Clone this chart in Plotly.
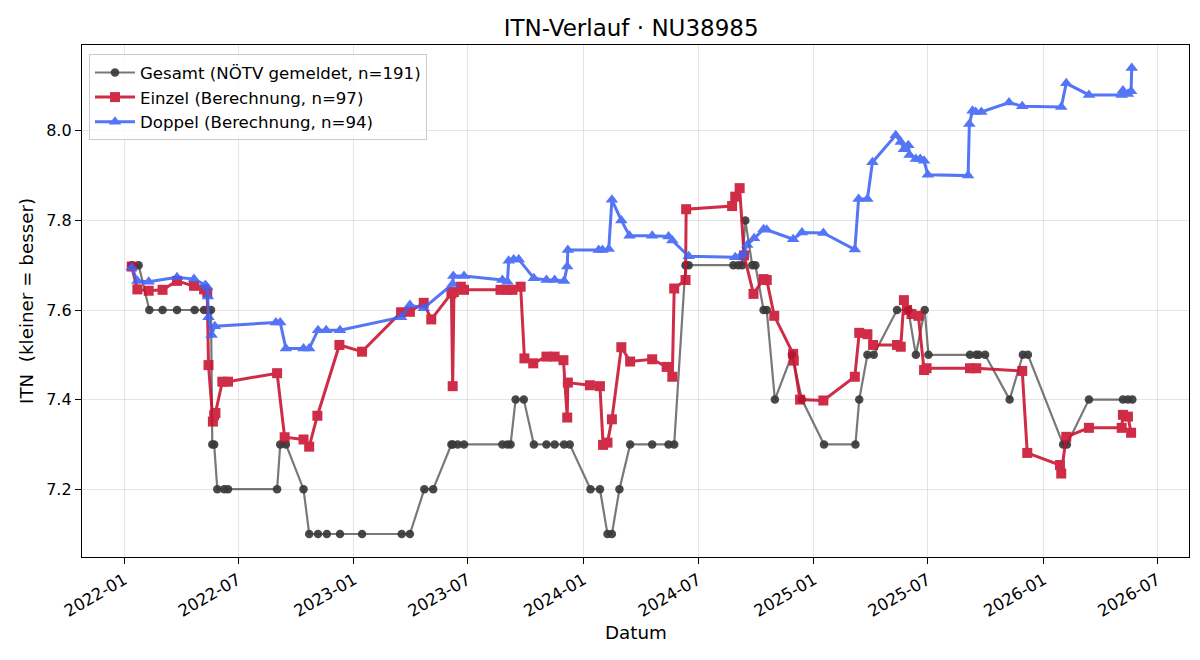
import plotly.graph_objects as go

# ---------------- data ----------------
gesamt_dates = [
    "2022-01-13", "2022-01-24", "2022-02-10", "2022-03-03", "2022-03-26", "2022-04-23",
    "2022-05-08", "2022-05-19", "2022-05-21", "2022-05-24", "2022-05-29", "2022-06-09",
    "2022-06-15", "2022-09-01", "2022-09-06", "2022-09-15", "2022-10-13", "2022-10-22",
    "2022-11-05", "2022-11-19", "2022-12-10", "2023-01-14", "2023-03-18", "2023-03-31",
    "2023-04-23", "2023-05-07", "2023-06-05", "2023-06-07", "2023-06-15", "2023-06-25",
    "2023-08-25", "2023-09-02", "2023-09-07", "2023-09-15", "2023-09-28", "2023-10-14",
    "2023-11-03", "2023-11-16", "2023-12-01", "2023-12-10", "2024-01-12", "2024-01-27",
    "2024-02-08", "2024-02-15", "2024-02-27", "2024-03-15", "2024-04-19", "2024-05-15",
    "2024-05-24", "2024-06-11", "2024-06-16", "2024-08-26", "2024-09-03", "2024-09-09",
    "2024-09-14", "2024-09-25", "2024-09-30", "2024-10-13", "2024-10-18", "2024-10-31",
    "2024-11-27", "2024-12-13", "2025-01-17", "2025-03-08", "2025-03-14", "2025-03-27",
    "2025-04-06", "2025-05-13", "2025-05-31", "2025-06-12", "2025-06-26", "2025-07-02",
    "2025-09-06", "2025-09-16", "2025-09-20", "2025-09-30", "2025-11-08", "2025-11-29",
    "2025-12-07", "2026-02-01", "2026-02-07", "2026-03-14", "2026-05-07", "2026-05-15",
    "2026-05-22",
]
gesamt_values = [
    7.7, 7.7, 7.6, 7.6, 7.6, 7.6,
    7.6, 7.6, 7.3, 7.3, 7.2, 7.2,
    7.2, 7.2, 7.3, 7.3, 7.2, 7.1,
    7.1, 7.1, 7.1, 7.1, 7.1, 7.1,
    7.2, 7.2, 7.3, 7.3, 7.3, 7.3,
    7.3, 7.3, 7.3, 7.4, 7.4, 7.3,
    7.3, 7.3, 7.3, 7.3, 7.2, 7.2,
    7.1, 7.1, 7.2, 7.3, 7.3, 7.3,
    7.3, 7.7, 7.7, 7.7, 7.7, 7.7,
    7.8, 7.7, 7.7, 7.6, 7.6, 7.4,
    7.5, 7.4, 7.3, 7.3, 7.4, 7.5,
    7.5, 7.6, 7.6, 7.5, 7.6, 7.5,
    7.5, 7.5, 7.5, 7.5, 7.4, 7.5,
    7.5, 7.3, 7.3, 7.4, 7.4, 7.4,
    7.4,
]

einzel_dates = [
    "2022-01-13", "2022-01-22", "2022-02-09", "2022-03-03", "2022-03-26", "2022-04-22",
    "2022-05-08", "2022-05-13", "2022-05-15", "2022-05-22", "2022-05-24", "2022-05-26",
    "2022-06-06", "2022-06-15", "2022-09-01", "2022-09-13", "2022-10-13", "2022-10-22",
    "2022-11-04", "2022-12-09", "2023-01-14", "2023-03-17", "2023-03-31", "2023-04-22",
    "2023-05-04", "2023-06-05", "2023-06-07", "2023-06-09", "2023-06-20", "2023-06-25",
    "2023-08-22", "2023-09-02", "2023-09-10", "2023-09-23", "2023-09-29", "2023-10-13",
    "2023-11-03", "2023-11-16", "2023-11-30", "2023-12-06", "2023-12-07", "2024-01-11",
    "2024-01-27", "2024-02-01", "2024-02-08", "2024-02-15", "2024-03-01", "2024-03-15",
    "2024-04-19", "2024-05-12", "2024-05-21", "2024-05-24", "2024-06-11", "2024-06-12",
    "2024-08-24", "2024-08-29", "2024-09-05", "2024-09-12", "2024-09-27", "2024-10-13",
    "2024-10-18", "2024-10-30", "2024-11-29", "2024-11-30", "2024-12-10", "2025-01-16",
    "2025-03-07", "2025-03-14", "2025-03-27", "2025-04-05", "2025-05-13", "2025-05-19",
    "2025-05-24", "2025-05-29", "2025-06-05", "2025-06-16", "2025-06-25", "2025-06-29",
    "2025-09-06", "2025-09-16", "2025-11-28", "2025-12-06", "2026-01-27", "2026-01-29",
    "2026-02-06", "2026-03-14", "2026-05-05", "2026-05-07", "2026-05-15", "2026-05-20",
]
einzel_values = [
    7.697, 7.646, 7.643, 7.645, 7.665, 7.654,
    7.646, 7.639, 7.477, 7.351, 7.365, 7.370,
    7.440, 7.440, 7.459, 7.316, 7.311, 7.295,
    7.364, 7.522, 7.507, 7.595, 7.596, 7.616,
    7.579, 7.637, 7.430, 7.640, 7.652, 7.645,
    7.645, 7.645, 7.645, 7.652, 7.492, 7.481,
    7.496, 7.496, 7.488, 7.360, 7.438, 7.432,
    7.430, 7.299, 7.304, 7.356, 7.517, 7.485,
    7.490, 7.473, 7.451, 7.648, 7.667, 7.825,
    7.832, 7.853, 7.872, 7.722, 7.636, 7.669,
    7.667, 7.587, 7.502, 7.487, 7.400, 7.398,
    7.451, 7.549, 7.546, 7.522, 7.522, 7.518,
    7.622, 7.600, 7.591, 7.587, 7.466, 7.470,
    7.470, 7.470, 7.464, 7.281, 7.254, 7.235,
    7.317, 7.337, 7.337, 7.366, 7.362, 7.326,
]

doppel_dates = [
    "2022-01-13", "2022-01-22", "2022-02-09", "2022-03-26", "2022-04-22", "2022-05-10",
    "2022-05-13", "2022-05-14", "2022-05-15", "2022-05-20", "2022-05-25", "2022-08-30",
    "2022-09-06", "2022-09-15", "2022-10-13", "2022-10-22", "2022-11-05", "2022-11-18",
    "2022-12-10", "2023-03-17", "2023-03-31", "2023-04-22", "2023-06-07", "2023-06-08",
    "2023-06-25", "2023-08-25", "2023-09-02", "2023-09-04", "2023-09-12", "2023-09-20",
    "2023-10-14", "2023-11-03", "2023-11-16", "2023-12-01", "2023-12-06", "2023-12-07",
    "2024-01-25", "2024-01-31", "2024-02-10", "2024-02-15", "2024-03-01", "2024-03-14",
    "2024-04-19", "2024-05-15", "2024-05-21", "2024-06-16", "2024-08-29", "2024-09-06",
    "2024-09-11", "2024-09-17", "2024-09-28", "2024-10-13", "2024-10-18", "2024-11-29",
    "2024-12-13", "2025-01-16", "2025-03-07", "2025-03-13", "2025-03-27", "2025-04-04",
    "2025-05-11", "2025-05-19", "2025-05-24", "2025-05-31", "2025-06-02", "2025-06-12",
    "2025-06-19", "2025-06-25", "2025-07-01", "2025-09-03", "2025-09-05", "2025-09-10",
    "2025-09-15", "2025-09-24", "2025-11-07", "2025-11-28", "2026-01-29", "2026-02-06",
    "2026-03-14", "2026-05-05", "2026-05-07", "2026-05-15", "2026-05-20", "2026-05-21",
]
doppel_values = [
    7.695, 7.665, 7.663, 7.673, 7.669, 7.656,
    7.651, 7.630, 7.584, 7.544, 7.564, 7.572,
    7.572, 7.514, 7.514, 7.514, 7.555, 7.555,
    7.555, 7.584, 7.611, 7.604, 7.658, 7.676,
    7.676, 7.667, 7.663, 7.710, 7.713, 7.713,
    7.671, 7.667, 7.667, 7.665, 7.697, 7.734,
    7.734, 7.734, 7.736, 7.846, 7.800, 7.766,
    7.766, 7.764, 7.755, 7.720, 7.718, 7.720,
    7.725, 7.745, 7.760, 7.780, 7.779, 7.758,
    7.773, 7.772, 7.735, 7.848, 7.848, 7.930,
    7.990, 7.975, 7.959, 7.968, 7.946, 7.937,
    7.937, 7.933, 7.902, 7.900, 8.015, 8.045,
    8.042, 8.042, 8.063, 8.055, 8.053, 8.106,
    8.080, 8.080, 8.090, 8.082, 8.088, 8.140,
]

series_names = [
    "Gesamt (NÖTV gemeldet, n=191)",
    "Einzel (Berechnung, n=97)",
    "Doppel (Berechnung, n=94)",
]
x_tick_vals = ["2022-01-01", "2022-07-01", "2023-01-01", "2023-07-01", "2024-01-01",
               "2024-07-01", "2025-01-01", "2025-07-01", "2026-01-01", "2026-07-01"]
x_tick_text = ["2022-01", "2022-07", "2023-01", "2023-07", "2024-01",
               "2024-07", "2025-01", "2025-07", "2026-01", "2026-07"]
y_tick_vals = [7.2, 7.4, 7.6, 7.8, 8.0]

FONT = "DejaVu Sans"

fig = go.Figure()
fig.add_trace(go.Scatter(
    x=gesamt_dates, y=gesamt_values, mode="lines+markers", name=series_names[0],
    line=dict(color="rgba(68,68,68,0.72)", width=2.2),
    marker=dict(symbol="circle", size=8.5, color="rgba(58,58,58,0.92)"),
))
fig.add_trace(go.Scatter(
    x=einzel_dates, y=einzel_values, mode="lines+markers", name=series_names[1],
    line=dict(color="#C8102E", width=3),
    marker=dict(symbol="square", size=10, color="#C8102E"),
    opacity=0.88,
))
fig.add_trace(go.Scatter(
    x=doppel_dates, y=doppel_values, mode="lines+markers", name=series_names[2],
    line=dict(color="#3D63F5", width=3),
    marker=dict(symbol="triangle-up", size=11, color="#3D63F5"),
    opacity=0.88,
))

axis_common = dict(
    showline=True, linecolor="black", linewidth=1.3, mirror=True,
    ticks="outside", ticklen=6, tickwidth=1.3, tickcolor="black",
    showgrid=True, gridcolor="rgba(0,0,0,0.10)", gridwidth=1,
    zeroline=False,
)

fig.update_layout(
    width=1200, height=660,
    margin=dict(l=82, r=11, t=45, b=103),
    paper_bgcolor="white", plot_bgcolor="white",
    font=dict(family=FONT, color="black"),
    title=dict(text="ITN-Verlauf · NU38985", x=0.526, xanchor="center",
               y=1 - 28 / 660, yref="container", yanchor="middle",
               font=dict(family=FONT, size=23, color="black")),
    xaxis=dict(axis_common, type="date", range=["2021-10-26", "2026-08-20"],
               tickvals=x_tick_vals, ticktext=x_tick_text, tickangle=-30,
               tickfont=dict(family=FONT, size=16.5, color="black")),
    yaxis=dict(axis_common, range=[7.0487, 8.1915], tickvals=y_tick_vals,
               tickformat=".1f",
               tickfont=dict(family=FONT, size=16, color="black")),
    legend=dict(x=0.0063, y=0.982, xanchor="left", yanchor="top",
                bgcolor="rgba(255,255,255,0.8)", bordercolor="#cccccc", borderwidth=1,
                font=dict(family=FONT, size=16.6, color="black"),
                itemwidth=40, tracegroupgap=0),
    showlegend=True,
    annotations=[
        dict(text="Datum", xref="paper", yref="paper", x=0.5, y=-0.148,
             xanchor="center", yanchor="middle", showarrow=False,
             font=dict(family=FONT, size=18.3, color="black")),
        dict(text="ITN\u00a0 (kleiner = besser)", xref="paper", yref="paper",
             x=-0.0506, y=0.5, xanchor="center", yanchor="middle", textangle=-90,
             showarrow=False, font=dict(family=FONT, size=18.3, color="black")),
    ],
)

fig.write_html("out.html")
